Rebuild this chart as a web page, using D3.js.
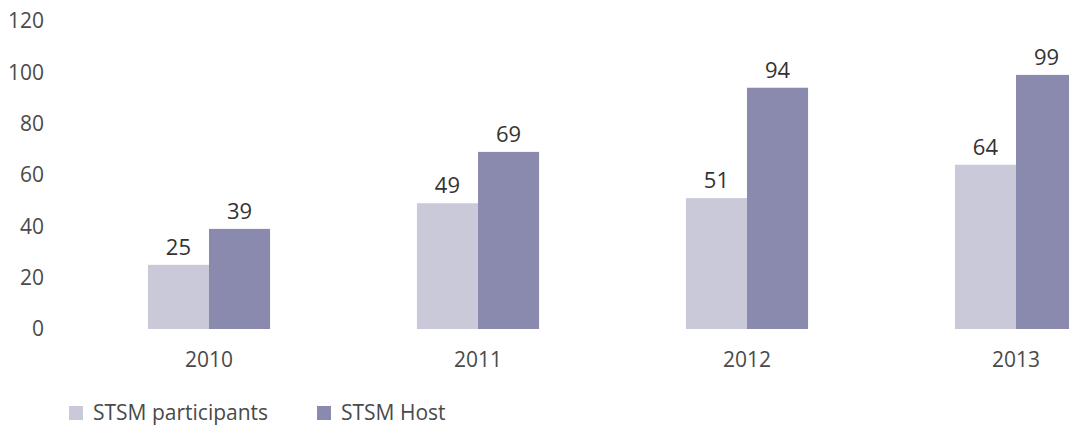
<!DOCTYPE html>
<html>
<head>
<meta charset="utf-8">
<script src="https://cdn.jsdelivr.net/npm/d3@7"></script>
<style>
  body { margin: 0; background: #fff; }
  svg { display: block; font-family: "Open Sans", sans-serif; }
</style>
</head>
<body>
<script>
const width = 1069;
const height = 426;

const years = ["2010", "2011", "2012", "2013"];
const seriesNames = ["STSM participants", "STSM Host"];
const participants = [25, 49, 51, 64];
const host = [39, 69, 94, 99];
const yTicks = [0, 20, 40, 60, 80, 100, 120];
const colors = ["#cac9da", "#898aad"];

const rows = years.map((y, i) => ({year: y, values: [participants[i], host[i]]}));

const svg = d3.select("body").append("svg")
  .attr("width", width)
  .attr("height", height);

const x = d3.scaleBand()
  .domain(years)
  .range([74.5, 1150.5])
  .paddingInner(0.546)
  .paddingOuter(0.273);

const xs = d3.scaleBand()
  .domain(d3.range(seriesNames.length))
  .range([0, x.bandwidth()]);

const y = d3.scaleLinear()
  .domain([0, 120])
  .range([329, 21]);

// y axis, labels only
const yAxis = svg.append("g")
  .attr("transform", "translate(44,0)")
  .call(d3.axisLeft(y).tickValues(yTicks).tickSize(0).tickPadding(0));
yAxis.select(".domain").remove();
yAxis.selectAll("text")
  .attr("font-family", "Open Sans")
  .attr("font-size", 21)
  .attr("fill", "#4a4a4a");

// x axis, labels only
const xAxis = svg.append("g")
  .attr("transform", "translate(0,344)")
  .call(d3.axisBottom(x).tickSize(0).tickPadding(8));
xAxis.select(".domain").remove();
xAxis.selectAll("text")
  .attr("font-family", "Open Sans")
  .attr("font-size", 21)
  .attr("fill", "#4a4a4a");

const group = svg.append("g")
  .selectAll("g")
  .data(rows)
  .join("g")
  .attr("transform", d => `translate(${x(d.year)},0)`);

group.selectAll("rect")
  .data(d => d.values)
  .join("rect")
  .attr("x", (d, i) => xs(i))
  .attr("y", d => y(d))
  .attr("width", xs.bandwidth())
  .attr("height", d => y(0) - y(d))
  .attr("fill", (d, i) => colors[i]);

group.selectAll("text")
  .data(d => d.values)
  .join("text")
  .attr("x", (d, i) => xs(i) + xs.bandwidth() / 2)
  .attr("y", d => y(d) - 10)
  .attr("text-anchor", "middle")
  .attr("font-size", 22)
  .attr("fill", "#333")
  .text(d => d);

// legend
const legendX = [69, 317];
const legend = svg.append("g")
  .selectAll("g")
  .data(seriesNames)
  .join("g")
  .attr("transform", (d, i) => `translate(${legendX[i]},413)`);

legend.append("rect")
  .attr("x", 0)
  .attr("y", -7)
  .attr("width", 14)
  .attr("height", 14)
  .attr("fill", (d, i) => colors[i]);

legend.append("text")
  .attr("x", 24)
  .attr("dy", "0.35em")
  .attr("font-size", 21)
  .attr("fill", "#4a4a4a")
  .text(d => d);
</script>
</body>
</html>
